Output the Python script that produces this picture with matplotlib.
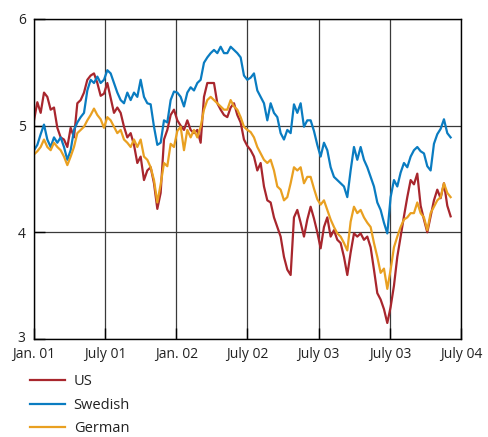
import numpy as np
import matplotlib
matplotlib.use("Agg")
import matplotlib.pyplot as plt
import matplotlib.transforms as mtransforms

plt.rcParams['font.family'] = ['Open Sans', 'DejaVu Sans']

tick_labels = ["Jan. 01", "July 01", "Jan. 02", "July 02", "July 03", "July 03", "July 04"]
tick_months = [0, 6, 12, 18, 24, 30, 36]

us = [5.05, 5.22, 5.12, 5.31, 5.27, 5.15, 5.17, 4.98, 4.89, 4.87,
      4.80, 4.98, 4.89, 5.21, 5.24, 5.31, 5.43, 5.47, 5.49, 5.40,
      5.28, 5.30, 5.40, 5.26, 5.12, 5.17, 5.12, 4.99, 4.89, 4.93,
      4.82, 4.65, 4.71, 4.49, 4.58, 4.61, 4.46, 4.22, 4.37, 4.87,
      4.96, 5.10, 5.15, 5.05, 5.00, 4.96, 5.05, 4.96, 4.93, 4.96,
      4.84, 5.27, 5.40, 5.40, 5.40, 5.21, 5.15, 5.10, 5.08, 5.17,
      5.21, 5.10, 5.03, 4.87, 4.81, 4.77, 4.71, 4.58, 4.65, 4.43,
      4.30, 4.28, 4.14, 4.05, 3.96, 3.77, 3.65, 3.60, 4.14, 4.21,
      4.09, 3.96, 4.12, 4.24, 4.13, 4.00, 3.85, 4.05, 4.14, 3.96,
      4.02, 3.93, 3.90, 3.77, 3.60, 3.81, 3.99, 3.96, 3.99, 3.93,
      3.96, 3.86, 3.65, 3.43, 3.37, 3.28, 3.15, 3.30, 3.50, 3.77,
      3.96, 4.15, 4.33, 4.49, 4.45, 4.55, 4.25, 4.12, 4.00, 4.15,
      4.30, 4.40, 4.32, 4.46, 4.25, 4.15]

swedish = [4.77, 4.82, 4.92, 5.01, 4.87, 4.80, 4.89, 4.84, 4.89, 4.80,
           4.68, 4.77, 4.96, 5.03, 5.08, 5.12, 5.33, 5.43, 5.40, 5.46,
           5.40, 5.43, 5.52, 5.49, 5.40, 5.31, 5.24, 5.21, 5.31, 5.24,
           5.31, 5.27, 5.43, 5.27, 5.21, 5.20, 4.99, 4.82, 4.84, 5.05,
           5.03, 5.24, 5.32, 5.31, 5.27, 5.18, 5.31, 5.36, 5.33, 5.40,
           5.43, 5.59, 5.64, 5.68, 5.71, 5.68, 5.74, 5.68, 5.68, 5.74,
           5.71, 5.68, 5.64, 5.47, 5.43, 5.45, 5.49, 5.33, 5.27, 5.21,
           5.05, 5.21, 5.12, 5.08, 4.93, 4.87, 4.96, 4.93, 5.20, 5.12,
           5.21, 4.99, 5.05, 5.05, 4.95, 4.82, 4.71, 4.84, 4.77, 4.61,
           4.52, 4.49, 4.46, 4.43, 4.33, 4.58, 4.80, 4.68, 4.80, 4.68,
           4.61, 4.52, 4.43, 4.28, 4.21, 4.09, 3.99, 4.33, 4.49, 4.43,
           4.56, 4.65, 4.61, 4.71, 4.77, 4.80, 4.76, 4.74, 4.62, 4.58,
           4.83, 4.92, 4.97, 5.06, 4.93, 4.89]

german = [4.73, 4.76, 4.80, 4.87, 4.80, 4.77, 4.84, 4.80, 4.77, 4.71,
          4.63, 4.71, 4.80, 4.93, 4.96, 4.99, 5.05, 5.10, 5.16, 5.10,
          5.06, 4.98, 5.08, 5.05, 4.99, 4.93, 4.96, 4.87, 4.84, 4.80,
          4.87, 4.80, 4.87, 4.71, 4.68, 4.61, 4.49, 4.28, 4.45, 4.65,
          4.62, 4.83, 4.80, 4.95, 4.99, 4.77, 4.96, 4.89, 4.96, 4.89,
          4.99, 5.15, 5.24, 5.27, 5.24, 5.21, 5.18, 5.15, 5.15, 5.24,
          5.18, 5.15, 5.08, 4.99, 4.96, 4.94, 4.89, 4.80, 4.74, 4.68,
          4.65, 4.68, 4.58, 4.43, 4.40, 4.30, 4.33, 4.46, 4.61, 4.58,
          4.61, 4.46, 4.52, 4.52, 4.41, 4.31, 4.26, 4.30, 4.21, 4.12,
          4.05, 3.99, 3.96, 3.90, 3.83, 4.10, 4.24, 4.18, 4.21, 4.14,
          4.09, 4.05, 3.90, 3.77, 3.62, 3.66, 3.47, 3.65, 3.86, 3.96,
          4.05, 4.12, 4.14, 4.18, 4.18, 4.28, 4.18, 4.14, 4.02, 4.18,
          4.24, 4.30, 4.33, 4.46, 4.37, 4.33]

series_names = ["US", "Swedish", "German"]
colors = ["#a8262d", "#0a7cc1", "#e9a021"]

# regular time grid (months since Jan. 01), one observation every ~8.5 days
months = np.arange(len(us)) * 0.281

fig = plt.figure(figsize=(4.89, 4.37), dpi=100)
ax = fig.add_axes([34/489, 1-339/437, (461-34)/489, (339-19)/437])

for vals, name, c in zip([us, swedish, german], series_names, colors):
    ax.plot(months, vals, color=c, lw=1.6, label=name, solid_joinstyle='round')

ax.set_xlim(0, 36)
ax.set_ylim(3, 6)
ax.set_xticks(tick_months)
ax.set_xticklabels(tick_labels)
ax.set_yticks([3, 4, 5, 6])
ax.set_yticklabels(["3", "4", "5", "6"])
ax.grid(True, color="#3a3a3a", lw=0.9)
ax.set_axisbelow(True)
ax.tick_params(direction='in', length=8, width=1, color='black', labelsize=10,
               labelcolor='#222222')
ax.tick_params(axis='y', pad=6)
ax.tick_params(axis='x', pad=6)
for s in ax.spines.values():
    s.set_color('black')
    s.set_linewidth(1.0)

# nudge the lowest y label slightly upward, as in the reference
lbl3 = ax.get_yticklabels()[0]
lbl3.set_transform(lbl3.get_transform() +
                   mtransforms.ScaledTranslation(0, 3/100, fig.dpi_scale_trans))

fig.legend(loc='upper left', bbox_to_anchor=(30/489, 1-374/437), frameon=False,
           fontsize=10.5, handlelength=2.4, handletextpad=0.6, labelspacing=0.6,
           borderpad=0, borderaxespad=0, labelcolor='#222222')

fig.savefig("out.png", dpi=100)
